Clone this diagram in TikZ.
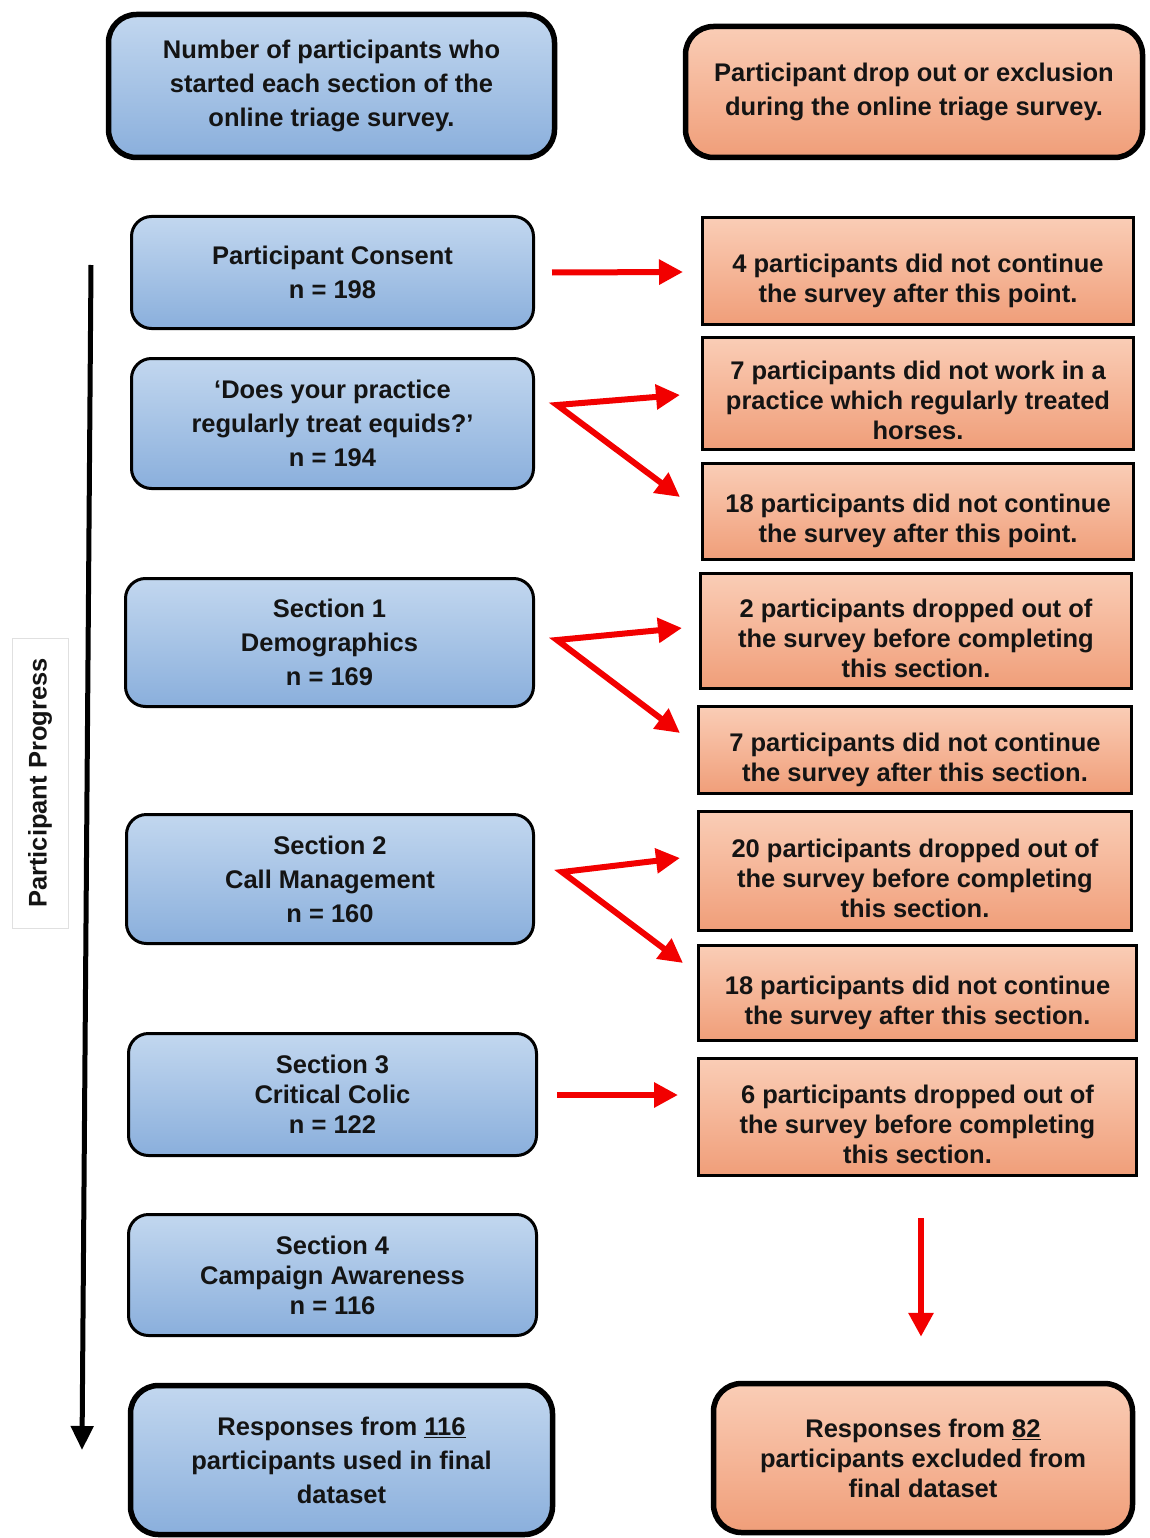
\documentclass[tikz,border=0pt]{standalone}
\usepackage{fontspec}
\setmainfont{Liberation Sans}
\usetikzlibrary{arrows.meta,calc}
\definecolor{bluetop}{HTML}{C2D7EF}
\definecolor{bluebot}{HTML}{8AAFDC}
\definecolor{orgtop}{HTML}{FACDB6}
\definecolor{orgbot}{HTML}{F09E79}
\definecolor{txt}{HTML}{141414}
\definecolor{arrred}{HTML}{F20000}
\newcommand\rboxtext[1]{\raisebox{-16.4pt}[0pt][0pt]{\begin{tabular}{@{}c@{}}#1\end{tabular}}}
\begin{document}
\begin{tikzpicture}[x=1pt,y=-1pt,
  base/.style={align=center, inner sep=0pt, text=txt, font=\bfseries\fontsize{25.5}{34}\selectfont},
  bluebox/.style={base, draw=black, line width=3pt, rounded corners=20pt, top color=bluetop, bottom color=bluebot},
  bluehead/.style={bluebox, line width=5.5pt, rounded corners=28pt},
  orgfill/.style={base, draw=black, line width=3pt, top color=orgtop, bottom color=orgbot},
  orgbox/.style={draw=black, line width=3pt, top color=orgtop, bottom color=orgbot, inner sep=0pt, text=txt, font=\bfseries\fontsize{25.5}{30}\selectfont},
  orghead/.style={orgfill, line width=5.5pt, rounded corners=28pt},
  tight/.style={font=\bfseries\fontsize{25.5}{30}\selectfont},
  redarr/.style={draw=arrred, line width=6pt, line join=miter, -{Triangle[length=24pt,width=24pt]}},
  redarr2/.style={draw=arrred, line width=6pt, line join=miter, {Triangle[length=24pt,width=24pt]}-{Triangle[length=24pt,width=24pt]}},
  blackarr/.style={draw=black, line width=5pt, -{Triangle[length=24pt,width=22pt]}}
]
\useasboundingbox (0,0) rectangle (1150,1538);

% headers
\node[bluehead, minimum width=446, minimum height=143] (H1) at (331.5,86)
  {Number of participants who\\started each section of the\\online triage survey.};
\node[orghead, minimum width=457, minimum height=131] (H2) at (914,92)
  {Participant drop out or exclusion\\during the online triage survey.};

% left boxes
\node[bluebox, minimum width=402, minimum height=112] (L1) at (332.5,272.5)
  {Participant Consent\\n = 198};
\node[bluebox, minimum width=402, minimum height=130] (L2) at (332.5,423.5)
  {‘Does your practice\\regularly treat equids?’\\n = 194};
\node[bluebox, minimum width=408, minimum height=128] (L3) at (329.5,642.5)
  {Section 1\\Demographics\\n = 169};
\node[bluebox, minimum width=407, minimum height=129] (L4) at (330,879)
  {Section 2\\Call Management\\n = 160};
\node[bluebox, tight, minimum width=408, minimum height=122] (L5) at (332.5,1094.5)
  {Section 3\\Critical Colic\\n = 122};
\node[bluebox, tight, minimum width=408, minimum height=121] (L6) at (332.5,1275)
  {Section 4\\Campaign Awareness\\n = 116};
\node[bluehead, minimum width=422, minimum height=149] (LF) at (341.5,1460)
  {Responses from \underline{116}\\participants used in final\\dataset};

% right boxes
\node[orgbox, minimum width=431, minimum height=107] (R1) at (918,271)
  {\rboxtext{4 participants did not continue\\the survey after this point.}};
\node[orgbox, minimum width=431, minimum height=112] (R2) at (918,393.5)
  {\rboxtext{7 participants did not work in a\\practice which regularly treated\\horses.}};
\node[orgbox, minimum width=431, minimum height=96] (R3) at (918,511.5)
  {\rboxtext{18 participants did not continue\\the survey after this point.}};
\node[orgbox, minimum width=431, minimum height=115] (R4) at (916,631)
  {\rboxtext{2 participants dropped out of\\the survey before completing\\this section.}};
\node[orgbox, minimum width=433, minimum height=87] (R5) at (915,750)
  {\rboxtext{7 participants did not continue\\the survey after this section.}};
\node[orgbox, minimum width=433, minimum height=119] (R6) at (915,871)
  {\rboxtext{20 participants dropped out of\\the survey before completing\\this section.}};
\node[orgbox, minimum width=438, minimum height=95] (R7) at (917.5,993)
  {\rboxtext{18 participants did not continue\\the survey after this section.}};
\node[orgbox, minimum width=438, minimum height=117] (R8) at (917.5,1117)
  {\rboxtext{6 participants dropped out of\\the survey before completing\\this section.}};
\node[orghead, tight, minimum width=419, minimum height=149] (RF) at (923,1458)
  {Responses from \underline{82}\\participants excluded from\\final dataset};

% side label
\node[base, draw=black!12, fill=white, line width=1pt, rotate=90,
  minimum width=290, minimum height=56] (PP) at (40,783) {Participant Progress};

% black progress arrow
\coordinate (ptop) at (91,265);
\coordinate (pbot) at (82,1450);
\draw[blackarr] (ptop) -- (pbot);

% red arrows
\draw[redarr] ($(L1.east)+(17,0)$) -- ($(R1.west)+(-18,1)$);

\coordinate (ap2) at ($(L2.east)+(22,-18.5)$);
\draw[redarr2] ($(R3.west)+(-21,-14.5)$) -- (ap2) -- ($(R2.west)+(-21,1.5)$);

\coordinate (ap3) at ($(L3.east)+(22,-2.5)$);
\draw[redarr2] ($(R5.west)+(-17,-17)$) -- (ap3) -- ($(R4.west)+(-17,-3)$);

\coordinate (ap4) at ($(L4.east)+(27,-7)$);
\draw[redarr2] ($(R7.west)+(-14,-30)$) -- (ap4) -- ($(R6.west)+(-17,-13)$);

\draw[redarr] ($(L5.east)+(19,0.5)$) -- ($(R8.west)+(-19,-22)$);

\draw[redarr] ($(R8.south)+(3.5,41)$) -- ($(RF.north)+(-2,-44)$);
\end{tikzpicture}
\end{document}
